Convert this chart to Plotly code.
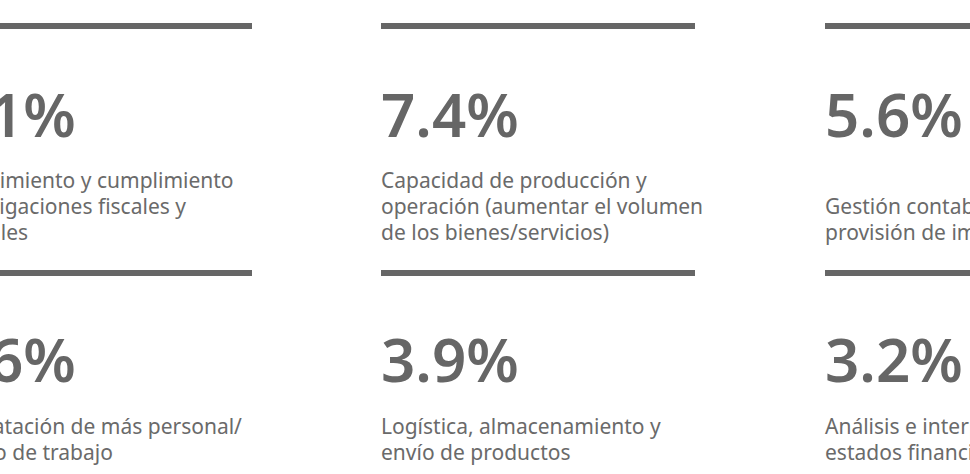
import plotly.graph_objects as go

W, H = 970, 474

# ---- data ----
pct_labels = ["8.1%", "7.4%", "5.6%", "4.6%", "3.9%", "3.2%"]
descriptions = [
    ["Conocimiento y cumplimiento", "de obligaciones fiscales y", "laborales"],
    ["Capacidad de producción y", "operación (aumentar el volumen", "de los bienes/servicios)"],
    ["Gestión contable y", "provisión de impuestos"],
    ["Contratación de más personal/", "equipo de trabajo"],
    ["Logística, almacenamiento y", "envío de productos"],
    ["Análisis e interpretación de", "estados financieros"],
]

# ---- layout (pixels) ----
col_left = [-62, 381, 825]
col_width = 314
bar_top = [23, 270]
bar_thick = 6
num_bottom = [157, 402]
desc_last_baseline = [239, 459]
line_gap = 26
DESC_SIZE = 21

GREY = "#666666"
TEXT_GREY = "#6a6a6a"


def px(x):
    return x / W


def py(y):
    return 1 - y / H


fig = go.Figure()

shapes = []
annotations = []
for i, (lab, lines) in enumerate(zip(pct_labels, descriptions)):
    r, c = divmod(i, 3)
    x0 = col_left[c]
    shapes.append(dict(type="rect", xref="paper", yref="paper",
                       x0=px(x0), x1=px(x0 + col_width),
                       y0=py(bar_top[r] + bar_thick), y1=py(bar_top[r]),
                       fillcolor=GREY, line=dict(width=0), layer="above"))
    annotations.append(dict(xref="paper", yref="paper", x=px(x0 - 2), y=py(num_bottom[r]),
                            xanchor="left", yanchor="bottom", showarrow=False,
                            text=lab, align="left",
                            font=dict(family="Noto Sans", size=60, color=GREY, weight=600)))
    n = len(lines)
    for k, line in enumerate(lines):
        baseline = desc_last_baseline[r] - (n - 1 - k) * line_gap
        annotations.append(dict(xref="paper", yref="paper", x=px(x0 - 2),
                                y=py(baseline + 0.45 * DESC_SIZE),
                                xanchor="left", yanchor="bottom", showarrow=False,
                                text=line, align="left",
                                font=dict(family="Noto Sans", size=DESC_SIZE, color=TEXT_GREY)))

fig.update_layout(
    width=W, height=H,
    margin=dict(l=0, r=0, t=0, b=0),
    paper_bgcolor="white", plot_bgcolor="white",
    xaxis=dict(visible=False, range=[0, 1]),
    yaxis=dict(visible=False, range=[0, 1]),
    shapes=shapes, annotations=annotations,
    showlegend=False,
)

fig.write_html("out.html", config={"displayModeBar": False},
               post_script="document.body.style.margin='0';")
